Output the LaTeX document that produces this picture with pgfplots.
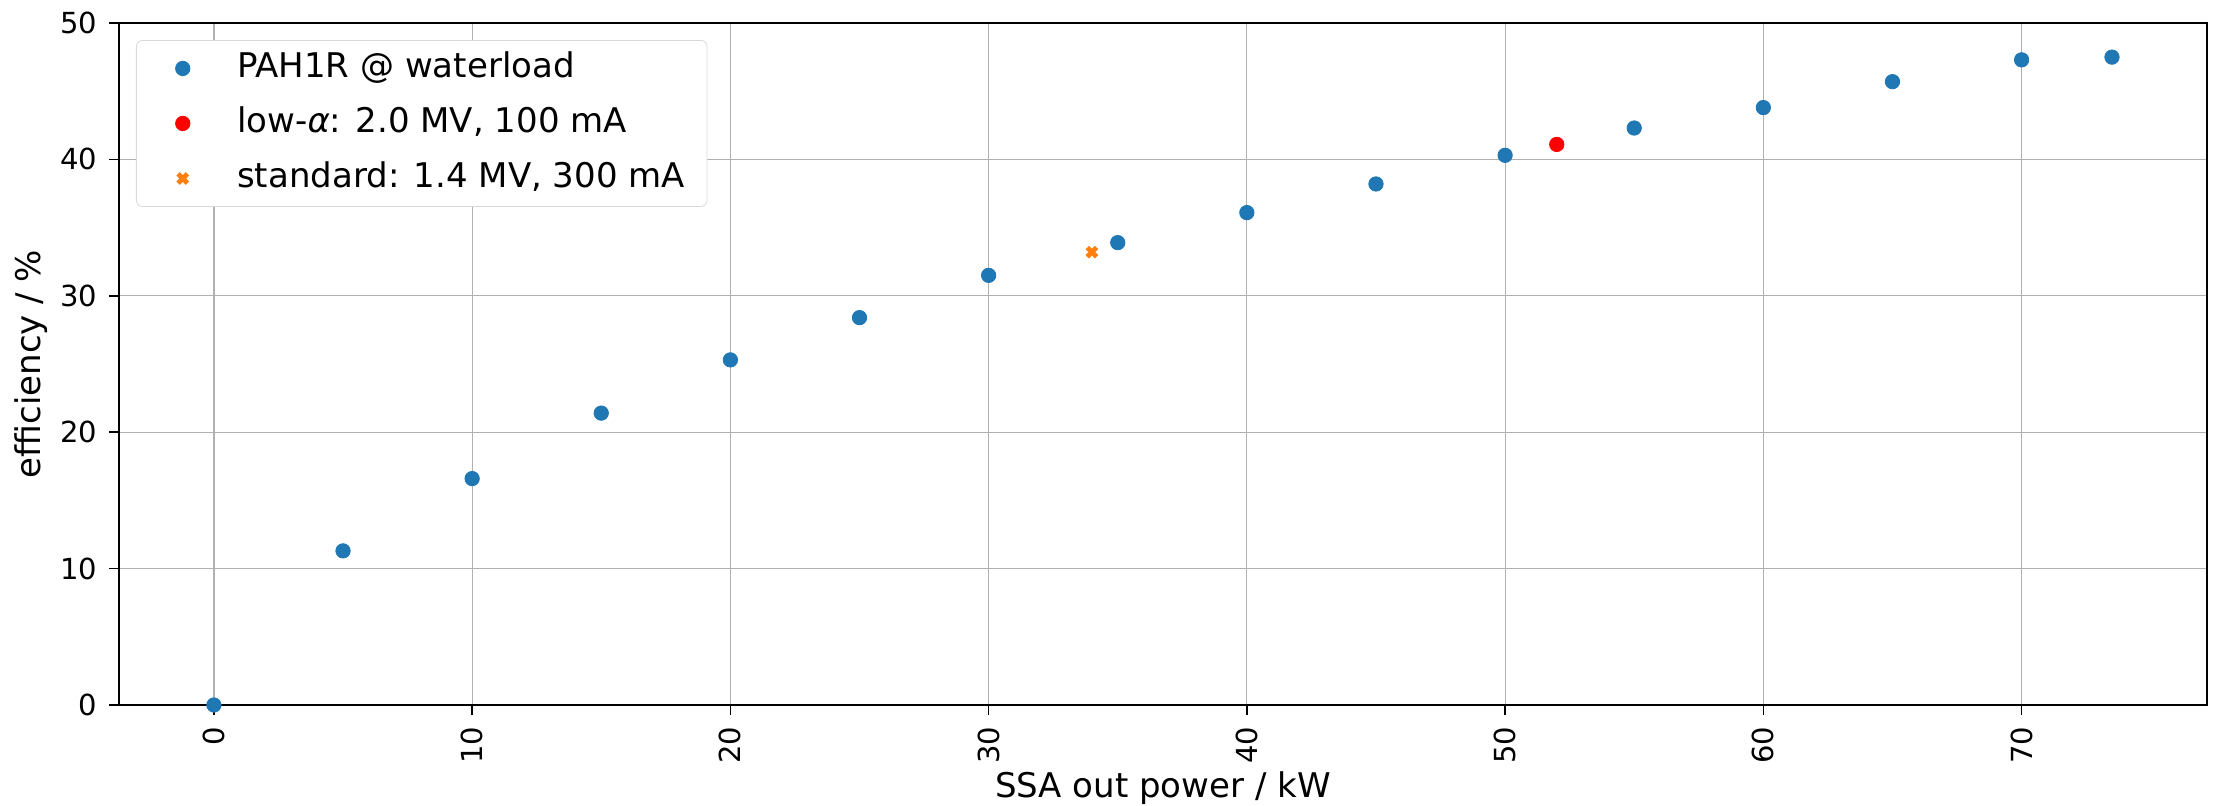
\documentclass[border=0pt]{standalone}
\usepackage{pgfplots}
\pgfplotsset{compat=1.18}
\usepackage{fontspec}
\setmainfont{DejaVu Sans}
\definecolor{mblue}{HTML}{1F77B4}
\definecolor{morange}{HTML}{FF7F0E}
\definecolor{mgrid}{HTML}{B0B0B0}
\begin{document}
\fontsize{17pt}{20.4pt}\selectfont
\begin{tikzpicture}
\useasboundingbox (-59.5pt,-50pt) rectangle (1049.5pt,352.5pt);
\begin{axis}[
  at={(0,0)}, anchor=south west,
  scale only axis, width=1044pt, height=341pt,
  xmin=-3.675, xmax=77.175, ymin=0, ymax=50,
  xtick={0,10,...,70}, ytick={0,10,...,50},
  tick pos=lower, tick align=outside,
  major tick length=5pt,
  tick style={black, line width=0.8pt},
  axis line style={line width=0.9pt},
  grid=major, major grid style={mgrid, line width=0.6pt},
  /pgf/number format/assume math mode=true,
  ticklabel style={font=\fontsize{14.5pt}{17pt}\selectfont},
  xticklabel style={rotate=90, anchor=east},
  xlabel={SSA out power / kW},
  ylabel={efficiency / \%},
  label style={font=\fontsize{17pt}{20pt}\selectfont},
  xlabel style={at={(axis description cs:0.5,-0.135)}, anchor=base},
  ylabel style={at={(axis description cs:-0.0374,0.5)}, anchor=base},
  legend style={at={(0.00814,0.975)}, anchor=north west, draw=black!15, rounded corners=3pt,
    fill=white, inner xsep=9pt, inner ysep=3pt,
    row sep=5.5pt, font=\fontsize{17pt}{20pt}\selectfont,
    nodes={text height=12.5pt, text depth=3.5pt, inner ysep=3pt}},
  legend cell align=left,
  legend image code/.code={\draw[#1] plot coordinates {(14pt,0pt)}; \path (0pt,0pt) (39pt,0pt);},
  clip=false,
]
\addplot[only marks, mark=*, mark size=3.6pt, color=mblue, mark options={draw=mblue, fill=mblue}] coordinates {
(0,0) (5,11.3) (10,16.6) (15,21.4) (20,25.3) (25,28.4) (30,31.5) (35,33.9) (40,36.1) (45,38.2) (50,40.3) (55,42.3) (60,43.8) (65,45.7) (70,47.3) (73.5,47.5)
};
\addlegendentry{PAH1R @ waterload}
\addplot[only marks, mark=*, mark size=3.6pt, color=red, mark options={draw=red, fill=red}] coordinates {(52,41.1)};
\addlegendentry{low-{\itshape α}: 2.0 MV, 100 mA}
\addplot[only marks, mark=x, mark size=3.3pt, color=morange, mark options={line width=2.4pt}] coordinates {(34,33.2)};
\addlegendentry{standard: 1.4 MV, 300 mA}
\end{axis}
\end{tikzpicture}
\end{document}
